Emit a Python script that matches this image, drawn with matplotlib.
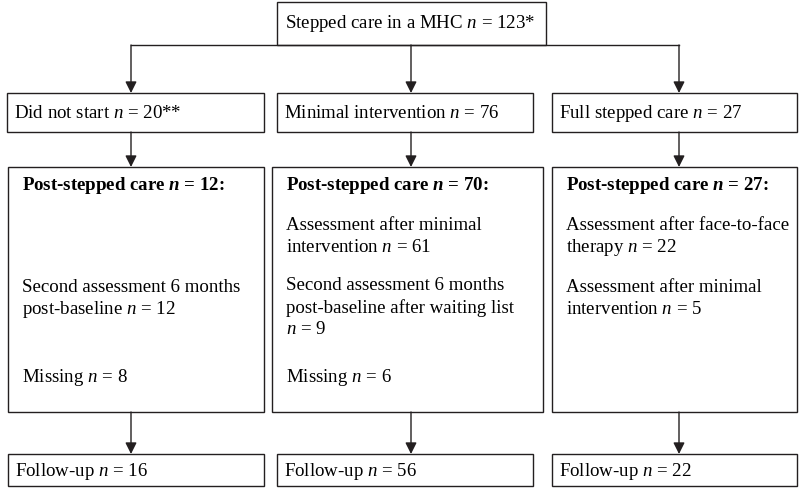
import matplotlib.pyplot as plt
from matplotlib.patches import Rectangle

plt.rcParams['font.family'] = 'Liberation Serif'
plt.rcParams['mathtext.fontset'] = 'custom'
plt.rcParams['mathtext.rm'] = 'Liberation Serif'
plt.rcParams['mathtext.it'] = 'Liberation Serif:italic'
plt.rcParams['mathtext.bf'] = 'Liberation Serif:bold'
plt.rcParams['mathtext.bfit'] = 'Liberation Serif:bold:italic'

# flow chart content
top_label = 'Stepped care in a MHC'
top_n = '123*'
arm_labels = ['Did not start', 'Minimal intervention', 'Full stepped care']
arm_n = ['20**', '76', '27']
post_n = ['12', '70', '27']
post_lines = [
    ['Second assessment 6 months', 'post-baseline $n$ = 12', 'Missing $n$ = 8'],
    ['Assessment after minimal', 'intervention $n$ = 61', 'Second assessment 6 months',
     'post-baseline after waiting list', '$n$ = 9', 'Missing $n$ = 6'],
    ['Assessment after face-to-face', 'therapy $n$ = 22', 'Assessment after minimal',
     'intervention $n$ = 5'],
]
followup_n = ['16', '56', '22']

# layout (pixels, y down)
col_x = [131, 411, 679]
row2_box = [(7, 264), (277, 533), (552, 797)]
row3_box = [(8, 264), (272, 543), (552, 797)]
row4_box = [(8, 264), (277, 533), (552, 797)]
post_y = [[288, 309, 378], [226, 247, 286, 308, 330, 378], [226, 247, 288, 309]]

lc = '#231f20'
fs = 13.6

fig = plt.figure(figsize=(8, 4.89), dpi=100)
ax = fig.add_axes([0, 0, 1, 1])
ax.set_xlim(0, 800)
ax.set_ylim(489, 0)
ax.axis('off')


def box(x0, x1, y0, y1):
    ax.add_patch(Rectangle((x0, y0), x1 - x0, y1 - y0, fill=False, ec=lc, lw=1.0))


def arrow(x, y0, y1):
    ax.annotate('', xy=(x, y1), xytext=(x, y0),
                arrowprops=dict(arrowstyle='-|>', color=lc, lw=1.0,
                                mutation_scale=17, shrinkA=0, shrinkB=0))


# top box
box(277, 546, 3, 46)
ax.text(285, 24, top_label + ' $n$ = ' + top_n, fontsize=fs, va='center')
ax.plot([col_x[0], col_x[2]], [46, 46], color=lc, lw=1.0)

for i in range(3):
    arrow(col_x[i], 46, 94)
    x0, x1 = row2_box[i]
    box(x0, x1, 94, 133)
    ax.text(x0 + 7, 114, arm_labels[i] + ' $n$ = ' + arm_n[i], fontsize=fs, va='center')

    arrow(col_x[i], 133, 168)
    x0, x1 = row3_box[i]
    box(x0, x1, 168, 413)
    ax.text(x0 + 14, 186, r'Post-stepped care $\mathbfit{n}$ = ' + post_n[i] + ':',
            fontsize=fs, fontweight='bold', va='center')
    for line, y in zip(post_lines[i], post_y[i]):
        ax.text(x0 + 14, y, line, fontsize=fs, va='center')

    arrow(col_x[i], 413, 455)
    x0, x1 = row4_box[i]
    box(x0, x1, 455, 487)
    ax.text(x0 + 7, 471, 'Follow-up $n$ = ' + followup_n[i], fontsize=fs, va='center')

fig.savefig('out.png', dpi=100, facecolor='white')
